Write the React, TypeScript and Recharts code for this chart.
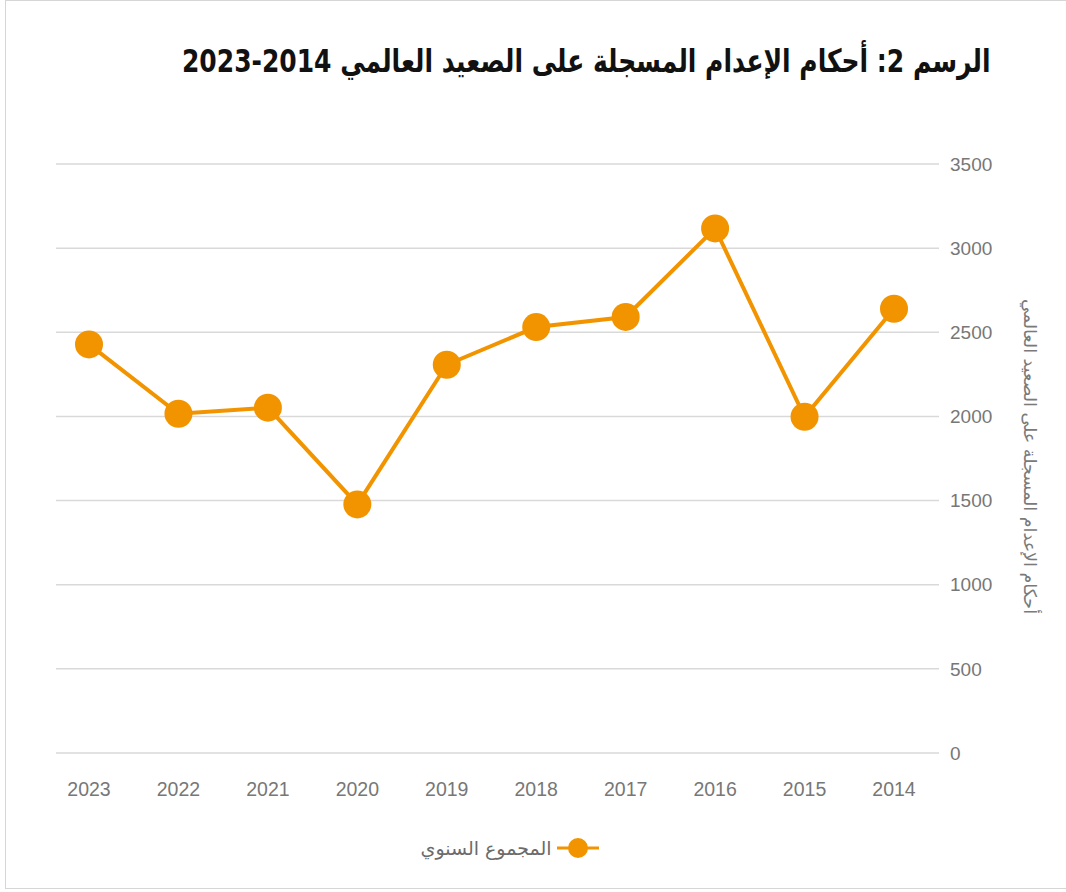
import React from "react";
import { LineChart, Line, XAxis, YAxis, CartesianGrid, Legend } from "recharts";

const years = ["2023", "2022", "2021", "2020", "2019", "2018", "2017", "2016", "2015", "2014"];
const annualTotals = [2428, 2016, 2052, 1477, 2307, 2531, 2591, 3117, 1998, 2640];
const yTicks = [0, 500, 1000, 1500, 2000, 2500, 3000, 3500];

const title = "الرسم 2: أحكام الإعدام المسجلة على الصعيد العالمي 2014-2023";
const yAxisTitle = "أحكام الإعدام المسجلة على الصعيد العالمي";
const seriesName = "المجموع السنوي";

const data = years.map((y, i) => ({ year: y, total: annualTotals[i] }));

const ORANGE = "#F29400";
const TICK_FONT = "'Liberation Sans', Arial, sans-serif";
const AR_FONT = "'DejaVu Sans', sans-serif";

const renderLegend = () => (
  <div
    style={{
      display: "flex",
      justifyContent: "center",
      alignItems: "center",
      direction: "rtl",
      fontFamily: AR_FONT,
      fontSize: 19,
      color: "#6b6b6b",
    }}
  >
    <svg width={42} height={24} style={{ marginRight: 4, marginLeft: 6 }}>
      <line x1={0} y1={12} x2={42} y2={12} stroke={ORANGE} strokeWidth={3} />
      <circle cx={21} cy={12} r={10} fill={ORANGE} />
    </svg>
    <span>{seriesName}</span>
  </div>
);

const renderYTitle = (props: any) => {
  const vb = props.viewBox || {};
  const cx = vb.x + 91;
  const cy = vb.y + vb.height / 2 - 2;
  return (
    <text
      x={cx}
      y={cy}
      transform={`rotate(90, ${cx}, ${cy})`}
      textAnchor="middle"
      dominantBaseline="central"
      fontFamily={AR_FONT}
      fontSize={17.5}
      fill="#7a7a7a"
    >
      {yAxisTitle}
    </text>
  );
};

export default function App() {
  return (
    <div style={{ position: "absolute", left: 0, top: 0, width: 1066, height: 892, background: "#fff", overflow: "hidden" }}>
      <div
        style={{
          position: "absolute",
          left: 5,
          top: 0,
          width: 1070,
          height: 889,
          border: "1px solid #d6d6d6",
          boxSizing: "border-box",
        }}
      />
      <div
        style={{
          position: "absolute",
          right: 1066 - 991,
          top: 38,
          direction: "rtl",
          whiteSpace: "nowrap",
          fontFamily: "'DejaVu Sans Condensed', 'DejaVu Sans', sans-serif",
          fontWeight: 700,
          fontSize: 32,
          color: "#111",
          lineHeight: "46px",
          transform: "scaleX(0.868)",
          transformOrigin: "right center",
        }}
      >
        {title}
      </div>
      <div style={{ position: "absolute", left: 0, top: 0 }}>
        <LineChart width={1066} height={892} data={data} margin={{ top: 164, right: 0, bottom: 100, left: 56 }}>
          <CartesianGrid horizontal vertical={false} stroke="#d9d9d9" strokeWidth={1.5} />
          <XAxis
            dataKey="year"
            axisLine={false}
            tickLine={false}
            height={39}
            padding={{ left: 33, right: 45 }}
            tickMargin={23}
            tick={{ fill: "#777", fontSize: 19.5, fontFamily: TICK_FONT }}
          />
          <YAxis
            orientation="right"
            width={127}
            domain={[0, 3500]}
            ticks={yTicks}
            axisLine={false}
            tickLine={false}
            tickMargin={5}
            tick={{ fill: "#777", fontSize: 19, fontFamily: TICK_FONT, textAnchor: "start" }}
            label={{ content: renderYTitle, position: "center" }}
          />
          <Legend verticalAlign="middle" content={renderLegend} wrapperStyle={{ top: 836, left: 0, width: 1024 }} />
          <Line
            type="linear"
            dataKey="total"
            name={seriesName}
            stroke={ORANGE}
            strokeWidth={4}
            dot={{ r: 14, fill: ORANGE, stroke: "none" }}
            activeDot={false}
            isAnimationActive={false}
          />
        </LineChart>
      </div>
    </div>
  );
}
